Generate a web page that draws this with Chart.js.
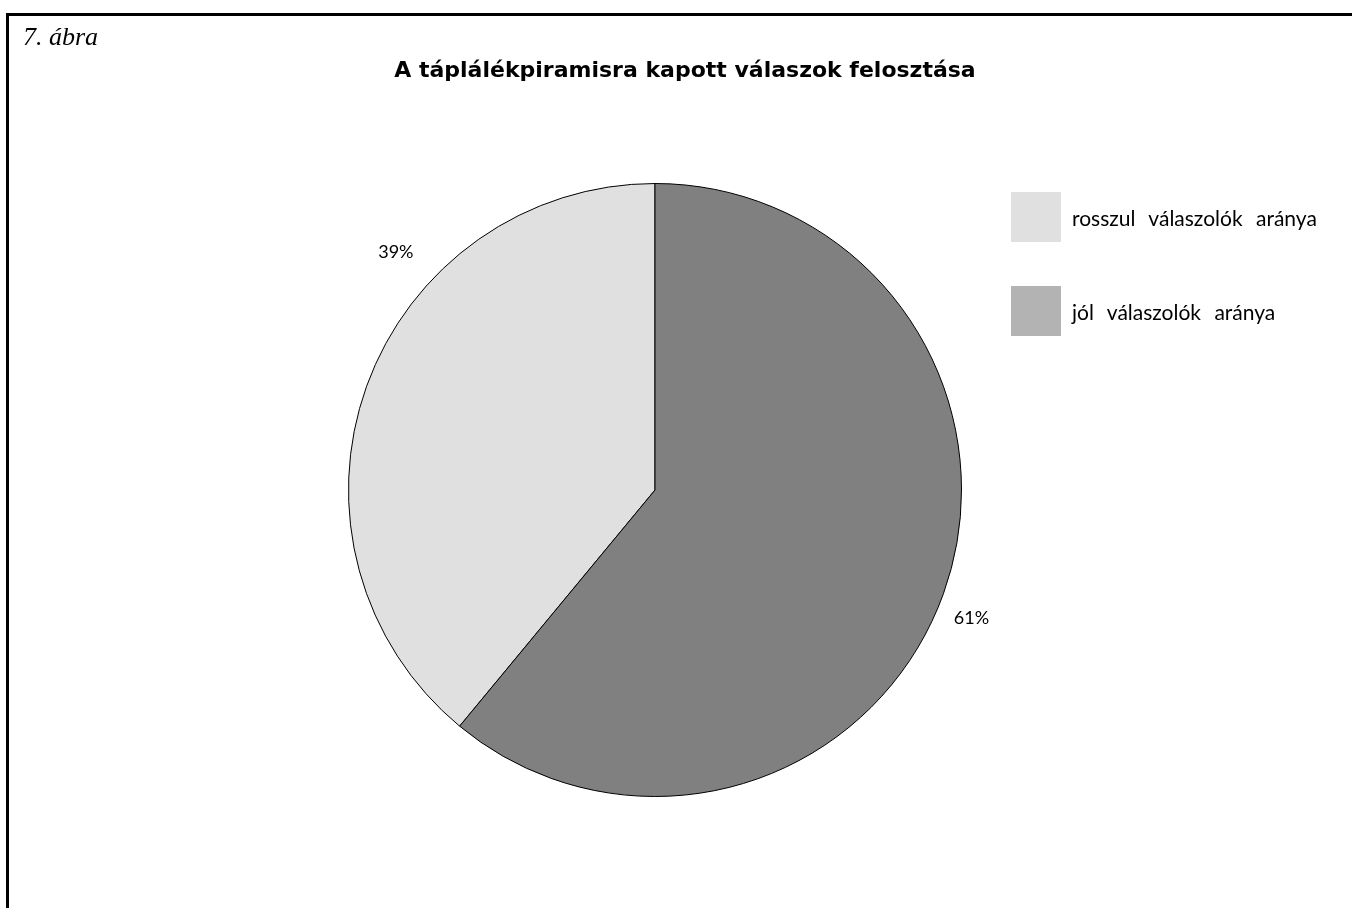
<!DOCTYPE html>
<html>
<head>
<meta charset="utf-8">
<script src="https://cdn.jsdelivr.net/npm/chart.js@4"></script>
<style>
  html, body { margin: 0; padding: 0; background: #fff; overflow: hidden; }
  #wrap { position: relative; width: 1352px; height: 908px; }
  #frame {
    position: absolute; left: 6px; top: 13px; width: 1400px; height: 950px;
    border-left: 3px solid #000; border-top: 3px solid #000;
  }
  #fig {
    position: absolute; left: 23px; top: 22px;
    font: italic 26px "Liberation Serif", serif; color: #000;
  }
  #title {
    position: absolute; left: 0; width: 1370px; top: 57px; text-align: center;
    font: bold 22px "DejaVu Sans", sans-serif; color: #000;
  }
  #legend { position: absolute; left: 1011px; top: 192px; }
  .item { display: flex; align-items: center; height: 50px; margin-bottom: 44px; }
  .box { width: 50px; height: 50px; margin-right: 11px; }
  .lbl { font: 21px Lato, sans-serif; word-spacing: 8px; color: #000; }
  #c { position: absolute; left: 0; top: 0; }
</style>
</head>
<body>
<div id="wrap">
  <canvas id="c" width="1352" height="908"></canvas>
  <div id="frame"></div>
  <div id="fig">7. ábra</div>
  <div id="title">A táplálékpiramisra kapott válaszok felosztása</div>
  <div id="legend"></div>
</div>
<script>
const categories = ["rosszul válaszolók aránya", "jól válaszolók aránya"];
const values = [39, 61];
const sliceColors = ["#e0e0e0", "#808080"];
const legendColors = ["#e0e0e0", "#b3b3b3"];

const total = values.reduce((a, b) => a + b, 0);

// legend in html
const legend = document.getElementById("legend");
categories.forEach((name, i) => {
  const item = document.createElement("div");
  item.className = "item";
  item.innerHTML = `<div class="box" style="background:${legendColors[i]}"></div><span class="lbl">${name}</span>`;
  legend.appendChild(item);
});

// percent labels outside the pie
const outsideLabels = {
  id: "outsideLabels",
  afterDatasetsDraw(chart, args, opts) {
    const ctx = chart.ctx;
    const meta = chart.getDatasetMeta(0);
    ctx.save();
    ctx.font = "18px Lato, sans-serif";
    ctx.fillStyle = "#000";
    ctx.textAlign = "center";
    ctx.textBaseline = "middle";
    meta.data.forEach((arc, i) => {
      const mid = (arc.startAngle + arc.endAngle) / 2 + (opts.shift[i] * Math.PI) / 180;
      const r = arc.outerRadius + opts.gap[i];
      const x = arc.x + Math.cos(mid) * r;
      const y = arc.y + Math.sin(mid) * r;
      ctx.fillText(Math.round((values[i] / total) * 100) + "%", x, y);
    });
    ctx.restore();
  },
};

new Chart(document.getElementById("c"), {
  type: "pie",
  data: {
    labels: categories,
    datasets: [
      {
        data: values,
        backgroundColor: sliceColors,
        borderColor: "#000",
        borderWidth: 1,
      },
    ],
  },
  options: {
    responsive: false,
    animation: false,
    rotation: (values[1] / total) * 360,
    layout: { padding: { top: 183, bottom: 111, left: 0, right: 42 } },
    plugins: {
      legend: { display: false },
      tooltip: { enabled: false },
      outsideLabels: { shift: [22.7, 2.3], gap: [45, 35] },
    },
  },
  plugins: [outsideLabels],
});
</script>
</body>
</html>
